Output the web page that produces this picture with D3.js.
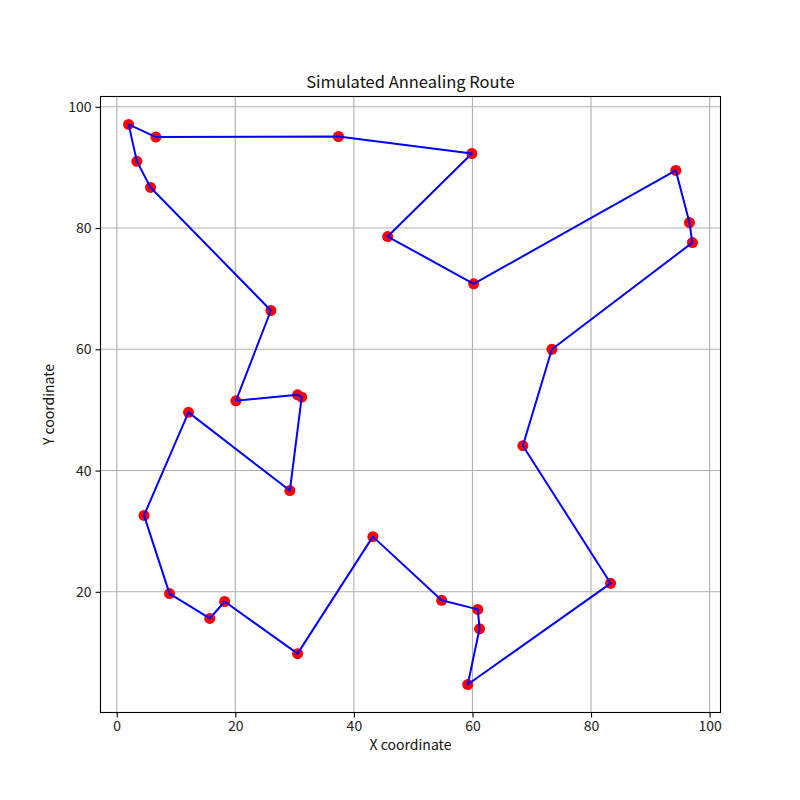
<html>
<head></head>
<body style="margin:0;background:white">
<svg id="svg" width="800" height="800"></svg>
<script src="https://cdn.jsdelivr.net/npm/d3@7"></script>
<script>

// route order, loop closes back to the first city
var xs = [2.0, 6.6, 37.4, 59.9, 45.7, 60.2, 94.3, 96.6, 97.1, 73.4, 68.5, 83.3, 59.2, 61.2, 60.9,
          54.8, 43.2, 30.5, 18.2, 15.7, 8.9, 4.6, 12.1, 29.2, 31.2, 30.5, 20.1, 26.0, 5.7, 3.4];
var ys = [97.1, 95.0, 95.1, 92.3, 78.6, 70.8, 89.5, 80.9, 77.6, 60.0, 44.1, 21.4, 4.7, 13.9, 17.1,
          18.6, 29.1, 9.8, 18.4, 15.6, 19.7, 32.6, 49.6, 36.7, 52.1, 52.5, 51.5, 66.4, 86.7, 91.0];
var xTicks = [0, 20, 40, 60, 80, 100];
var yTicks = [20, 40, 60, 80, 100];

var font = "'Noto Sans CJK JP', 'Noto Sans', sans-serif";
var L = 100.5, R = 720.5, T = 96.5, B = 712.5;

var pts = xs.map((x, i) => ({x: x, y: ys[i]}));

var x = d3.scaleLinear().domain([-2.74, 101.84]).range([L, R]);
var y = d3.scaleLinear().domain([0.09, 101.7]).range([B, T]);

var svg = d3.select("#svg");

// grid
svg.append("g").selectAll("line").data(xTicks).join("line")
  .attr("x1", d => x(d)).attr("x2", d => x(d)).attr("y1", T).attr("y2", B)
  .attr("stroke", "#b0b0b0").attr("stroke-width", 1.1);
svg.append("g").selectAll("line").data(yTicks).join("line")
  .attr("y1", d => y(d)).attr("y2", d => y(d)).attr("x1", L).attr("x2", R)
  .attr("stroke", "#b0b0b0").attr("stroke-width", 1.1);

// points
svg.append("g").selectAll("circle").data(pts).join("circle")
  .attr("cx", d => x(d.x)).attr("cy", d => y(d.y)).attr("r", 5.5)
  .attr("fill", "red");

// route
var line = d3.line().x(d => x(d.x)).y(d => y(d.y));
svg.append("path").datum(pts.concat([pts[0]]))
  .attr("d", line).attr("fill", "none")
  .attr("stroke", "blue").attr("stroke-width", 2).attr("stroke-linejoin", "round");

// axes
var gx = svg.append("g").attr("transform", "translate(0," + B + ")")
  .call(d3.axisBottom(x).tickValues(xTicks).tickSize(5).tickPadding(4));
var gy = svg.append("g").attr("transform", "translate(" + L + ",0)")
  .call(d3.axisLeft(y).tickValues(yTicks).tickSize(5).tickPadding(4));
[gx, gy].forEach(g => {
  g.select(".domain").remove();
  g.selectAll("text").attr("font-family", font).attr("font-size", 14).attr("fill", "#222");
  g.selectAll("line").attr("stroke", "black").attr("stroke-width", 1.1);
});

svg.append("rect").attr("x", L).attr("y", T).attr("width", R - L).attr("height", B - T)
  .attr("fill", "none").attr("stroke", "black").attr("stroke-width", 1.1);

svg.append("text").text("Simulated Annealing Route")
  .attr("x", (L + R) / 2).attr("y", 88).attr("text-anchor", "middle")
  .attr("font-family", font).attr("font-size", 16.5).attr("fill", "#111");
svg.append("text").text("X coordinate")
  .attr("x", (L + R) / 2).attr("y", 750).attr("text-anchor", "middle")
  .attr("font-family", font).attr("font-size", 14).attr("fill", "#111");
svg.append("text").text("Y coordinate")
  .attr("transform", "translate(54," + ((T + B) / 2) + ") rotate(-90)")
  .attr("text-anchor", "middle")
  .attr("font-family", font).attr("font-size", 14).attr("fill", "#111");

</script>
</body>
</html>
